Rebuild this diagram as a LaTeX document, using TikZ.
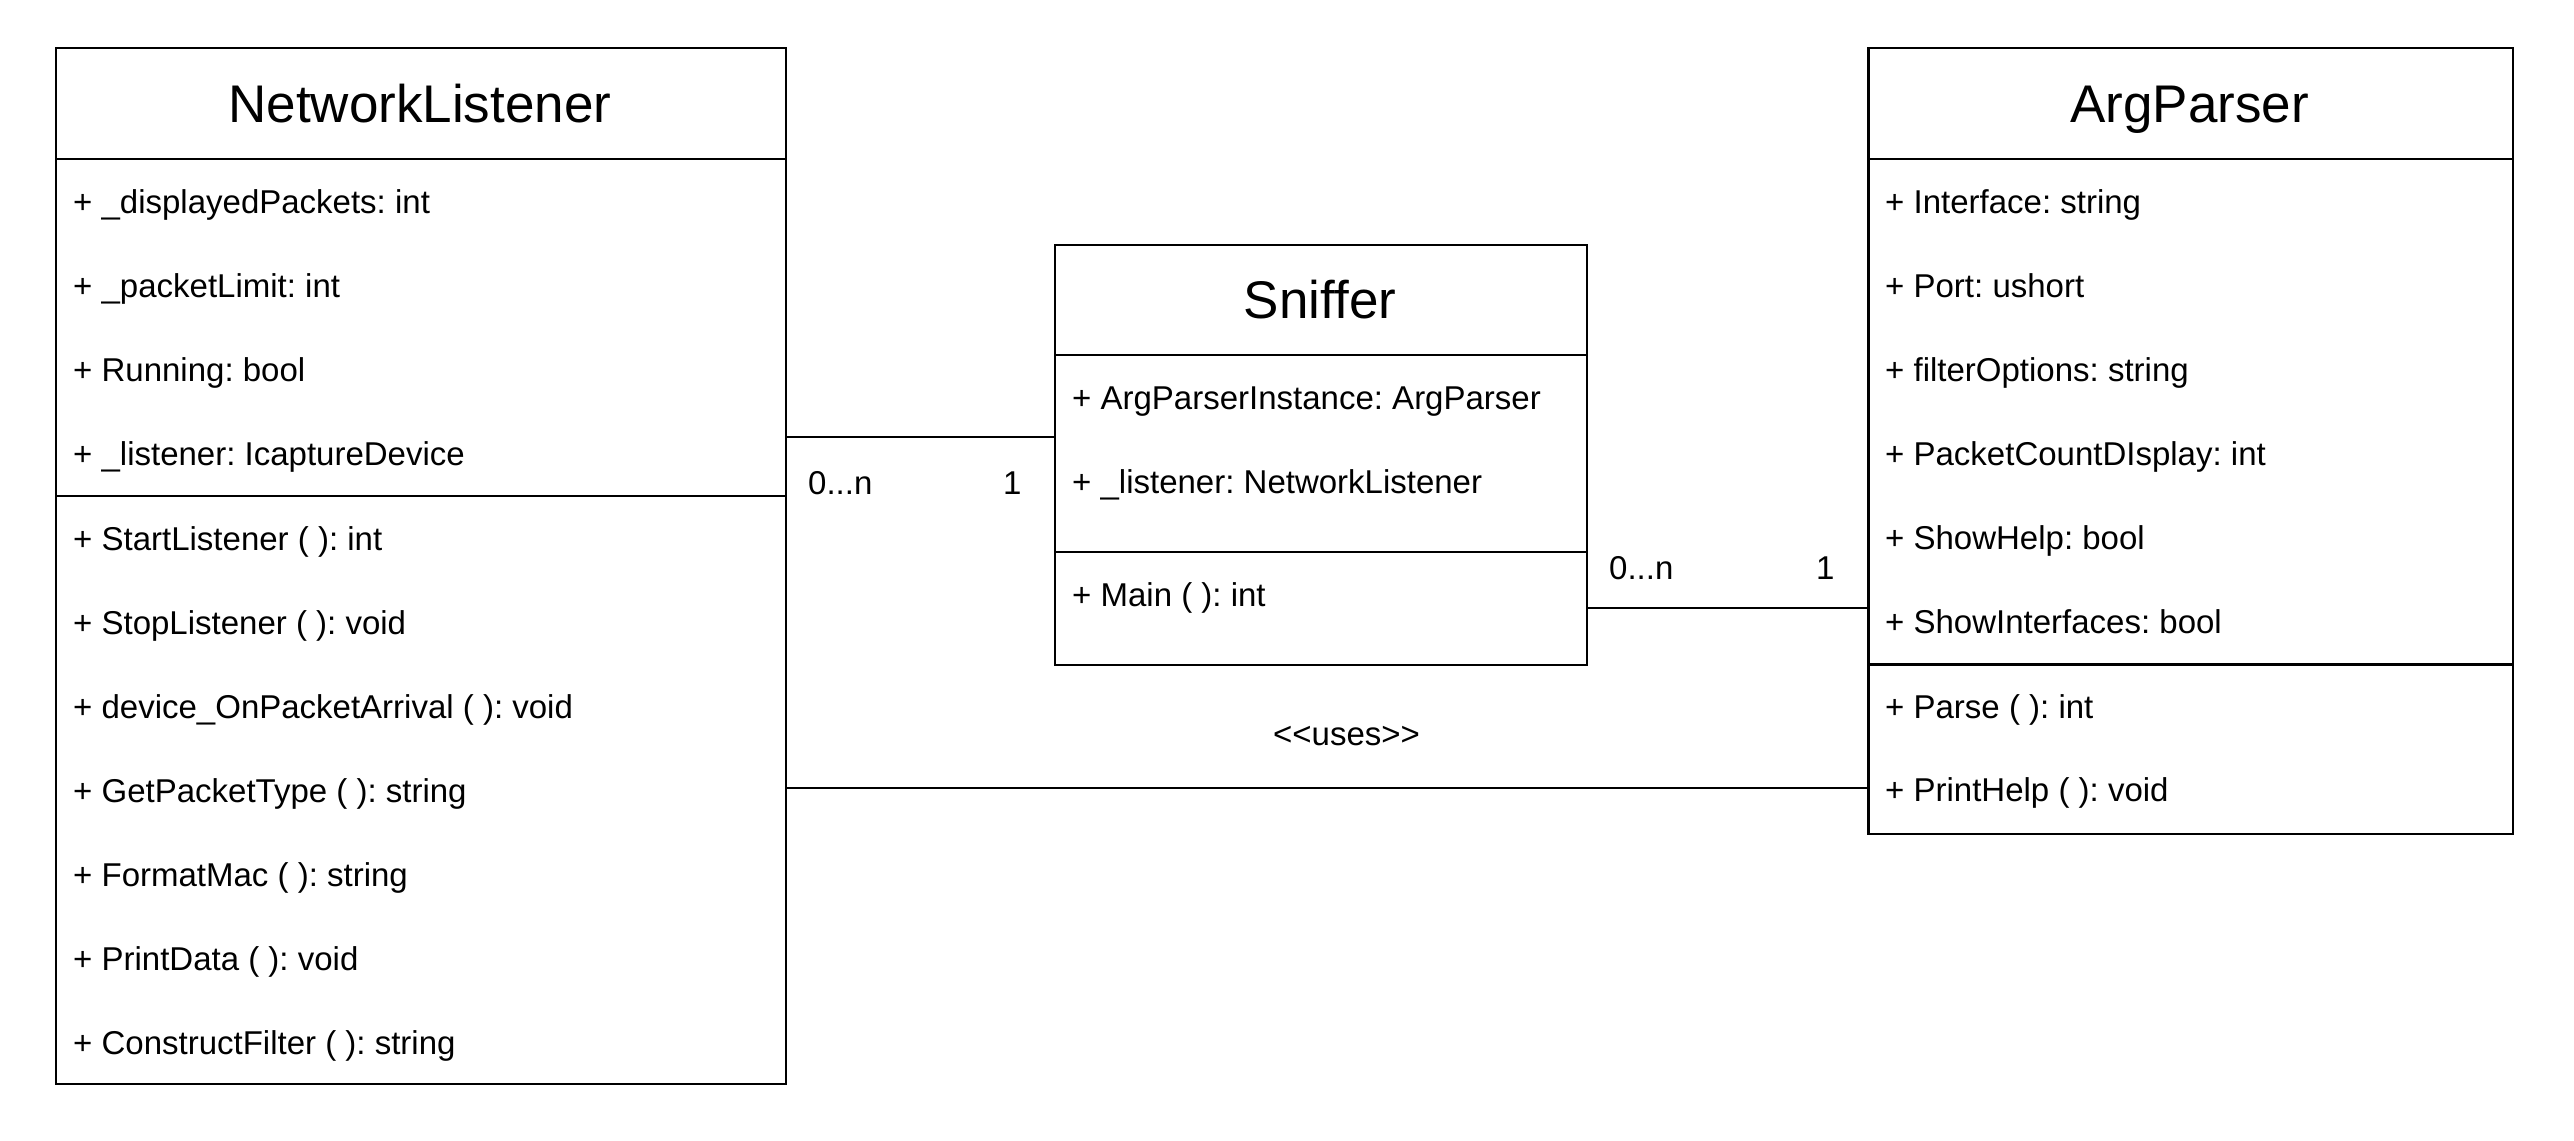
\documentclass[tikz,border=0pt]{standalone}
\usepackage{fontspec}
\setmainfont{Liberation Sans}
\frenchspacing
\begin{document}
\begin{tikzpicture}[x=1pt,y=-1pt,
  box/.style={draw, line width=2.2pt, inner sep=0pt, anchor=north west},
  sepline/.style={line width=2.2pt},
  conn/.style={line width=2.2pt},
  rowtxt/.style={anchor=base west, inner sep=0pt, font=\fontsize{33}{40}\selectfont},
  ttl/.style={anchor=base, inner sep=0pt, font=\fontsize{53}{64}\selectfont},
  lbl/.style={anchor=base west, inner sep=0pt, font=\fontsize{33}{40}\selectfont},
  lblc/.style={anchor=base, inner sep=0pt, font=\fontsize{33}{40}\selectfont}]
\useasboundingbox (0,0) rectangle (2574,1140);

% ---------- NetworkListener ----------
\node[box, minimum width=729.5pt, minimum height=1036pt] (nl) at (55,47) {};
\draw[sepline] (55,159.3) -- (784.5,159.3);
\draw[sepline] (55,496) -- (784.5,496);
\node[ttl] (nlt) at (419.75,122.3) {NetworkListener};
\node[rowtxt] (nl1) at (73,213.3) {+ \_displayedPackets: int};
\node[rowtxt] (nl2) at (73,297.3) {+ \_packetLimit: int};
\node[rowtxt] (nl3) at (73,381.3) {+ Running: bool};
\node[rowtxt] (nl4) at (73,465.3) {+ \_listener: IcaptureDevice};
\node[rowtxt] (nl5) at (73,550) {+ StartListener ( ): int};
\node[rowtxt] (nl6) at (73,634) {+ StopListener ( ): void};
\node[rowtxt] (nl7) at (73,718) {+ device\_OnPacketArrival ( ): void};
\node[rowtxt] (nl8) at (73,802) {+ GetPacketType ( ): string};
\node[rowtxt] (nl9) at (73,886) {+ FormatMac ( ): string};
\node[rowtxt] (nl10) at (73,970) {+ PrintData ( ): void};
\node[rowtxt] (nl11) at (73,1054) {+ ConstructFilter ( ): string};

% ---------- Sniffer ----------
\node[box, minimum width=532pt, minimum height=420pt] (sn) at (1054,243.5) {};
\draw[sepline] (1054,355) -- (1586,355);
\draw[sepline] (1054,552) -- (1586,552);
\node[ttl] (snt) at (1320,318.5) {Sniffer};
\node[rowtxt] (sn1) at (1072,409) {+ ArgParserInstance: ArgParser};
\node[rowtxt] (sn2) at (1072,493) {+ \_listener: NetworkListener};
\node[rowtxt] (sn3) at (1072,606) {+ Main ( ): int};

% ---------- ArgParser ----------
\node[box, minimum width=644.5pt, minimum height=785.5pt] (ap) at (1867.3,47) {};
\draw[sepline] (1867.3,159.3) -- (2511.8,159.3);
\draw[sepline] (1867.3,664.5) -- (2511.8,664.5);
\node[ttl] (apt) at (2189.5,122.3) {ArgParser};
\node[rowtxt] (ap1) at (1885,213.3) {+ Interface: string};
\node[rowtxt] (ap2) at (1885,297.3) {+ Port: ushort};
\node[rowtxt] (ap3) at (1885,381.3) {+ filterOptions: string};
\node[rowtxt] (ap4) at (1885,465.3) {+ PacketCountDIsplay: int};
\node[rowtxt] (ap5) at (1885,549.3) {+ ShowHelp: bool};
\node[rowtxt] (ap6) at (1885,633.5) {+ ShowInterfaces: bool};
\node[rowtxt] (ap7) at (1885,718) {+ Parse ( ): int};
\node[rowtxt] (ap8) at (1885,801.7) {+ PrintHelp ( ): void};

% ---------- connectors ----------
\coordinate (c1) at (0,437);
\coordinate (c2) at (0,608.3);
\coordinate (c3) at (0,788);
\draw[conn] (nl.east |- c1) -- (sn.west |- c1);
\draw[conn] (sn.east |- c2) -- (ap.west |- c2);
\draw[conn] (nl.east |- c3) -- (ap.west |- c3);

\node[lbl] (m1a) at (808,494) {0...n};
\node[lbl] (m1b) at (1003,494) {1};
\node[lbl] (m2a) at (1609,579.5) {0...n};
\node[lbl] (m2b) at (1816,579.5) {1};
\node[lblc] (uses) at (1346.5,745) {<{}<uses>{}>};
\end{tikzpicture}
\end{document}
